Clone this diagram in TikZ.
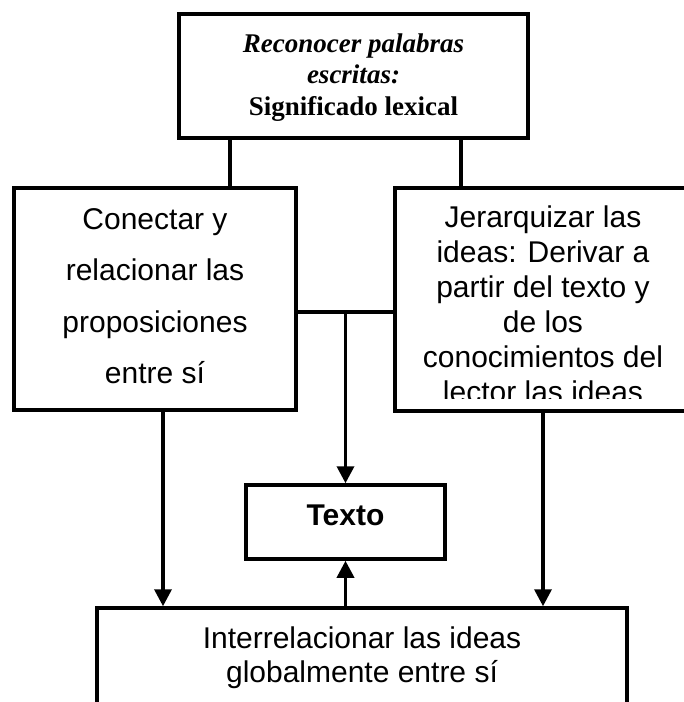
\documentclass[tikz,border=0pt]{standalone}
\usepackage{fontspec}
\setmainfont{Liberation Sans}
\newfontfamily\serifx{Liberation Serif}
\usetikzlibrary{arrows.meta}
\begin{document}
\begin{tikzpicture}[x=1pt,y=-1pt, line width=3.5pt,
  box/.style={draw, rectangle, inner sep=0pt},
  txt/.style={anchor=base, inner sep=0pt, font=\fontsize{30}{36}\selectfont},
  ttl/.style={anchor=base, inner sep=0pt, font=\serifx\fontsize{27}{32}\selectfont\bfseries},
  arr/.style={-{Triangle[length=17pt,width=17pt]}}]
\useasboundingbox (0,0) rectangle (684,702);
\clip (0,0) rectangle (684,702);
\fill[white] (0,0) rectangle (684,702);
% boxes
\node[box, minimum width=349pt, minimum height=124pt] (top) at (353.5,76) {};
\node[box, minimum width=282pt, minimum height=222pt] (left) at (155,299) {};
\node[box, minimum width=296pt, minimum height=223pt] (right) at (543,299.5) {};
\node[box, minimum width=199pt, minimum height=74pt] (texto) at (345.5,522) {};
\node[box, minimum width=530pt, minimum height=132pt] (bottom) at (362,674) {};
% texts
\node[ttl] (t1) at (353.5,52) {\itshape Reconocer palabras};
\node[ttl] (t2) at (353.5,83) {\itshape escritas:};
\node[ttl] (t3) at (353.5,115) {Significado lexical};
\node[txt] (l1) at (155,229) {Conectar y};
\node[txt] (l2) at (155,280) {relacionar las};
\node[txt] (l3) at (155,332) {proposiciones};
\node[txt] (l4) at (155,383) {entre sí};
\begin{scope}
\clip (right.north west) rectangle (691,398.5);
\node[txt] (r1) at (543,227) {Jerarquizar las};
\node[txt] (r2) at (543,262) {ideas: Derivar a};
\node[txt] (r3) at (543,297) {partir del texto y};
\node[txt] (r4) at (543,332) {de los};
\node[txt] (r5) at (543,367) {conocimientos del};
\node[txt] (r6) at (543,402) {lector las ideas};
\end{scope}
\node[txt, font=\fontsize{30}{36}\selectfont\bfseries] (x1) at (345.5,525) {Texto};
\node[txt] (b1) at (362,648) {Interrelacionar las ideas};
\node[txt] (b2) at (362,682) {globalmente entre sí};
% connectors
\coordinate (s1) at (230,0);
\coordinate (s2) at (461,0);
\coordinate (hy) at (0,312);
\coordinate (la) at (163,0);
\draw (s1 |- top.south) -- (s1 |- left.north);
\draw (s2 |- top.south) -- (s2 |- right.north);
\draw (hy -| left.east) -- (hy -| right.west);
\draw[arr] (hy -| texto.north) -- (texto.north);
\draw[arr] (la |- left.south) -- (la |- bottom.north);
\draw[arr] (right.south) -- (right.south |- bottom.north);
\draw[arr] (bottom.north -| texto.south) -- (texto.south);
\end{tikzpicture}
\end{document}
